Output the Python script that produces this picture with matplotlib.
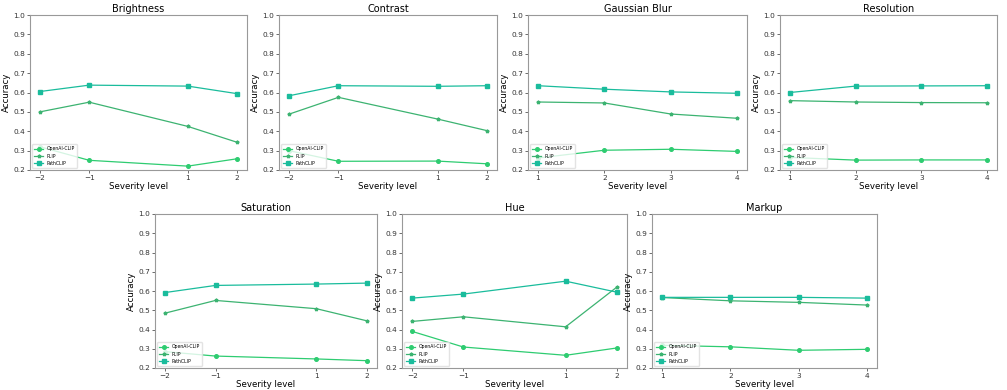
import matplotlib
matplotlib.use("Agg")
import matplotlib.pyplot as plt

W, H = 1007, 390
models = ["OpenAI-CLIP", "PLIP", "PathCLIP"]
colors = {"OpenAI-CLIP": "#2ecc71", "PLIP": "#3cb371", "PathCLIP": "#1abc9c"}
markers = {"OpenAI-CLIP": "o", "PLIP": "*", "PathCLIP": "s"}

sym = [-2, -1, 1, 2]
pos = [1, 2, 3, 4]

titles = ["Brightness", "Contrast", "Gaussian Blur", "Resolution",
          "Saturation", "Hue", "Markup"]
xvals = [sym, sym, pos, pos, sym, sym, pos]

openai = [
    [0.320, 0.250, 0.220, 0.258],
    [0.300, 0.245, 0.246, 0.232],
    [0.262, 0.302, 0.307, 0.296],
    [0.265, 0.251, 0.252, 0.252],
    [0.285, 0.262, 0.247, 0.238],
    [0.390, 0.309, 0.266, 0.304],
    [0.318, 0.310, 0.292, 0.297],
]
plip = [
    [0.500, 0.550, 0.425, 0.343],
    [0.488, 0.575, 0.463, 0.403],
    [0.551, 0.546, 0.489, 0.467],
    [0.558, 0.551, 0.548, 0.547],
    [0.485, 0.551, 0.508, 0.445],
    [0.442, 0.466, 0.414, 0.620],
    [0.566, 0.549, 0.541, 0.527],
]
pathclip = [
    [0.605, 0.638, 0.633, 0.594],
    [0.583, 0.635, 0.632, 0.635],
    [0.635, 0.617, 0.603, 0.596],
    [0.600, 0.633, 0.634, 0.635],
    [0.592, 0.629, 0.636, 0.641],
    [0.563, 0.584, 0.651, 0.594],
    [0.567, 0.567, 0.567, 0.563],
]

# axes boxes in pixels: left, top, right, bottom
boxes = [
    (30, 15, 247, 170),
    (279, 15, 497, 170),
    (528, 15, 747, 170),
    (780, 15, 997, 170),
    (155, 214, 377, 368),
    (402, 214, 627, 368),
    (652, 214, 877, 368),
]

fig = plt.figure(figsize=(W / 100, H / 100), dpi=100)
gray = "#999999"
msize = {"OpenAI-CLIP": 2.6, "PLIP": 2.6, "PathCLIP": 2.8}
for i, (l, t, r, b) in enumerate(boxes):
    ax = fig.add_axes([l / W, 1 - b / H, (r - l) / W, (b - t) / H])
    xs = xvals[i]
    series = {"OpenAI-CLIP": openai[i], "PLIP": plip[i], "PathCLIP": pathclip[i]}
    for m in models:
        ax.plot(xs, series[m], color=colors[m], marker=markers[m],
                markersize=msize[m], linewidth=0.9, label=m)
    ax.set_ylim(0.2, 1.0)
    ax.set_yticks([0.2, 0.3, 0.4, 0.5, 0.6, 0.7, 0.8, 0.9, 1.0])
    ax.set_xticks(xs)
    ax.set_title(titles[i], fontsize=7, pad=2)
    ax.set_xlabel("Severity level", fontsize=6.2, labelpad=1)
    ax.set_ylabel("Accuracy", fontsize=6.2, labelpad=2)
    ax.tick_params(labelsize=5.3, length=2, width=0.5, pad=1.5, colors="#333333")
    for s in ax.spines.values():
        s.set_color(gray)
        s.set_linewidth(0.8)
    ax.legend(loc="lower left", fontsize=3.3, frameon=True, framealpha=0.8,
              handlelength=2, borderpad=0.4, labelspacing=0.5,
              edgecolor="#dddddd", fancybox=True)

fig.savefig("out.png", dpi=100)
